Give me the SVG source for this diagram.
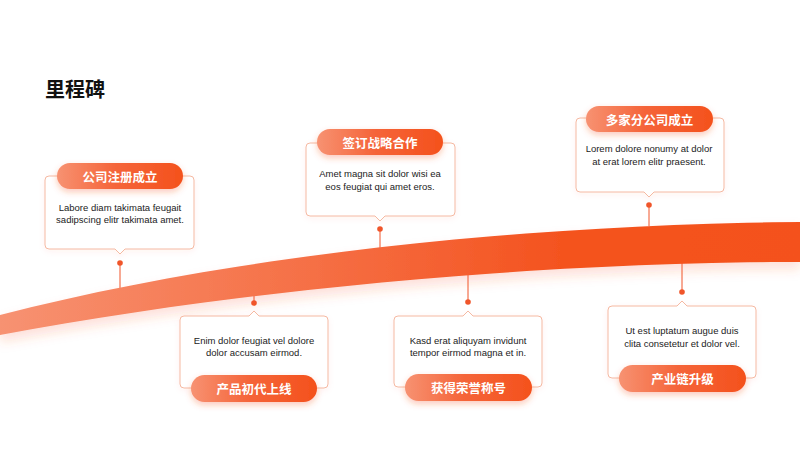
<svg xmlns="http://www.w3.org/2000/svg" width="800" height="450" viewBox="0 0 800 450">
<defs>
<linearGradient id="bandG" x1="0" y1="0" x2="800" y2="0" gradientUnits="userSpaceOnUse">
<stop offset="0" stop-color="#f79272"/>
<stop offset="0.45" stop-color="#f56a3e"/>
<stop offset="0.7" stop-color="#f4531f"/>
<stop offset="1" stop-color="#f4511c"/>
</linearGradient>
<linearGradient id="pillG" x1="0" y1="0" x2="1" y2="0">
<stop offset="0" stop-color="#f79272"/>
<stop offset="0.45" stop-color="#f5653a"/>
<stop offset="1" stop-color="#f4511c"/>
</linearGradient>
<filter id="bandSh" x="-10%" y="-50%" width="120%" height="200%">
<feDropShadow dx="0" dy="7" stdDeviation="6" flood-color="#f4511c" flood-opacity="0.18"/>
</filter>
<filter id="pillSh" x="-20%" y="-50%" width="140%" height="220%">
<feDropShadow dx="0" dy="3" stdDeviation="3" flood-color="#f4511c" flood-opacity="0.3"/>
</filter>
<filter id="boxSh" x="-10%" y="-10%" width="120%" height="130%">
<feDropShadow dx="0" dy="2" stdDeviation="3" flood-color="#f4511c" flood-opacity="0.06"/>
</filter>
</defs>
<style>
.box{fill:#ffffff;stroke:#f5b9a2;stroke-width:1;filter:url(#boxSh)}
.pill{fill:url(#pillG);filter:url(#pillSh)}
.pt{font-family:"Noto Sans CJK SC","Liberation Sans",sans-serif;font-size:12.5px;font-weight:bold;fill:#ffffff;text-anchor:middle;dominant-baseline:central}
.bt{font-family:"Liberation Sans",Arial,sans-serif;font-size:9.5px;fill:#222222;text-anchor:middle;dominant-baseline:central}
.ln{stroke:#f0552a;stroke-width:1;fill:none}
.dot{fill:#f0552a}
.title{font-family:"Noto Sans CJK SC","Liberation Sans",sans-serif;font-size:20px;font-weight:bold;fill:#111111}
</style>
<rect width="800" height="450" fill="#ffffff"/>
<text class="title" x="45" y="97">里程碑</text>
<g id="connectors">
<line class="ln" x1="120" y1="263" x2="120" y2="290"/>
<circle class="dot" cx="120" cy="263" r="2.8"/>
<line class="ln" x1="380" y1="229" x2="380" y2="250"/>
<circle class="dot" cx="380" cy="229" r="2.8"/>
<line class="ln" x1="649" y1="205" x2="649" y2="226"/>
<circle class="dot" cx="649" cy="205" r="2.8"/>
<line class="ln" x1="254" y1="290" x2="254" y2="303"/>
<circle class="dot" cx="254" cy="303" r="2.8"/>
<line class="ln" x1="468" y1="272" x2="468" y2="302"/>
<circle class="dot" cx="468" cy="302" r="2.8"/>
<line class="ln" x1="682" y1="260" x2="682" y2="292"/>
<circle class="dot" cx="682" cy="292" r="2.8"/>
</g>
<g id="band">
<path d="M0,315 C230,255 530,224 800,222 L800,262 C550,262 250,288 0,335 Z" fill="url(#bandG)" filter="url(#bandSh)"/>
</g>
<g id="node1">
<path class="box" d="M49,176 H190 Q194,176 194,180 V245 Q194,249 190,249 H125 L120,254 L115,249 H49 Q45,249 45,245 V180 Q45,176 49,176 Z"/>
<rect class="pill" x="57" y="163" width="126" height="26" rx="13"/>
<text class="pt" x="120" y="176">公司注册成立</text>
<text class="bt" x="120" y="207">Labore diam takimata feugait</text>
<text class="bt" x="120" y="219.5">sadipscing elitr takimata amet.</text>
</g>
<g id="node2">
<path class="box" d="M310,143 H451 Q455,143 455,147 V212 Q455,216 451,216 H385 L380,221 L375,216 H310 Q306,216 306,212 V147 Q306,143 310,143 Z"/>
<rect class="pill" x="317" y="129" width="126" height="26" rx="13"/>
<text class="pt" x="380" y="142">签订战略合作</text>
<text class="bt" x="380" y="173">Amet magna  sit dolor wisi ea</text>
<text class="bt" x="380" y="186">eos feugiat qui amet eros.</text>
</g>
<g id="node3">
<path class="box" d="M580,118 H720 Q724,118 724,122 V188 Q724,192 720,192 H654 L649,197 L644,192 H580 Q576,192 576,188 V122 Q576,118 580,118 Z"/>
<rect class="pill" x="586" y="106" width="127" height="26" rx="13"/>
<text class="pt" x="649.5" y="119">多家分公司成立</text>
<text class="bt" x="649" y="148.5">Lorem dolore nonumy  at dolor</text>
<text class="bt" x="649" y="161.5">at erat lorem elitr praesent.</text>
</g>
<g id="node4">
<path class="box" d="M184,316 H249 L254,311 L259,316 H324 Q328,316 328,320 V384 Q328,388 324,388 H184 Q180,388 180,384 V320 Q180,316 184,316 Z"/>
<rect class="pill" x="191" y="375" width="126" height="27" rx="13.5"/>
<text class="pt" x="254" y="388.5">产品初代上线</text>
<text class="bt" x="254" y="340">Enim dolor feugiat vel dolore</text>
<text class="bt" x="254" y="352.5">dolor accusam  eirmod.</text>
</g>
<g id="node5">
<path class="box" d="M398,316 H463 L468,311 L473,316 H538 Q542,316 542,320 V383 Q542,387 538,387 H398 Q394,387 394,383 V320 Q394,316 398,316 Z"/>
<rect class="pill" x="405" y="374" width="127" height="27" rx="13.5"/>
<text class="pt" x="468.5" y="387.5">获得荣誉称号</text>
<text class="bt" x="468" y="340">Kasd erat aliquyam invidunt</text>
<text class="bt" x="468" y="352.5">tempor eirmod magna et in.</text>
</g>
<g id="node6">
<path class="box" d="M612,306 H677 L682,301 L687,306 H752 Q756,306 756,310 V374 Q756,378 752,378 H612 Q608,378 608,374 V310 Q608,306 612,306 Z"/>
<rect class="pill" x="619" y="365" width="127" height="27" rx="13.5"/>
<text class="pt" x="682.5" y="378.5">产业链升级</text>
<text class="bt" x="682" y="330.5">Ut est luptatum augue duis</text>
<text class="bt" x="682" y="343.5">clita consetetur et dolor vel.</text>
</g>
</svg>
